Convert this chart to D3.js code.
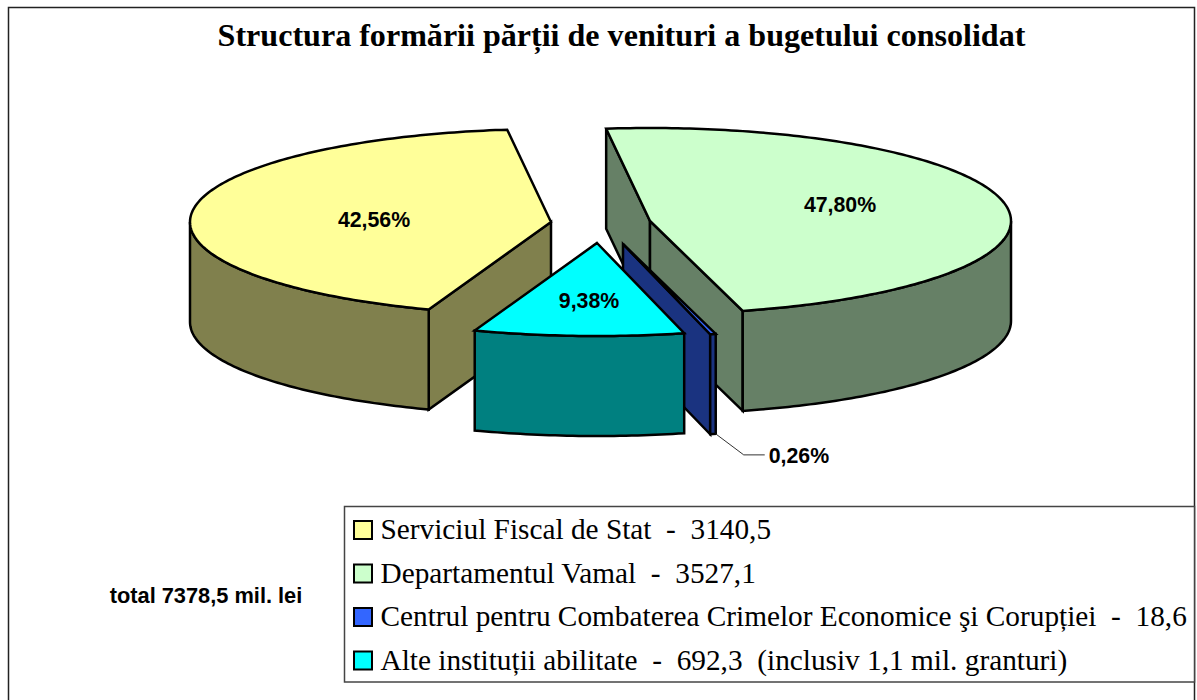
<!DOCTYPE html>
<html>
<head>
<meta charset="utf-8">
<script src="https://cdn.jsdelivr.net/npm/d3@7"></script>
<style>
html, body { margin: 0; padding: 0; background: #fff; }
svg { display: block; }
text { white-space: pre; }
.title { font: bold 32.07px "Liberation Serif", serif; }
.pct { font: bold 21.3px "Liberation Sans", sans-serif; }
.total { font: bold 21.8px "Liberation Sans", sans-serif; }
.legend { font: 29.3px "Liberation Serif", serif; }
</style>
</head>
<body>
<svg width="1197" height="700"></svg>
<script>
// data
var names = ["Serviciul Fiscal de Stat", "Departamentul Vamal", "Centrul pentru Combaterea Crimelor Economice şi Corupției", "Alte instituții abilitate"];
var values = [3140.5, 3527.1, 18.6, 692.3];
var percents = ["42,56%", "47,80%", "0,26%", "9,38%"];
var valueLabels = ["3140,5", "3527,1", "18,6", "692,3  (inclusiv 1,1 mil. granturi)"];
var topColors = ["#FFFF99", "#CCFFCC", "#3366FF", "#00FFFF"];
var wallColors = ["#80804D", "#668066", "#1A3380", "#008080"];

var title = "Structura formării părții de venituri a bugetului consolidat";
var totalLabel = "total 7378,5 mil. lei";

// layout of the tilted pie
var cx = 601, cy = 224, rx = 361, ry = 93, depth = 100;
var explode = [[-50, -2], [49, -3], [22, 20], [-4, 19]];
var labelShift = [[-177, 5], [190, -9], null, [-8, 65]];

var svg = d3.select("svg");

// outer frame, open at the bottom edge of the picture
svg.append("path")
    .attr("d", "M8.5,700V7.5H1194.5V700")
    .attr("fill", "none")
    .attr("stroke", "#222")
    .attr("stroke-width", 1.5);

svg.append("text")
    .attr("class", "title")
    .attr("x", 621.5)
    .attr("y", 46)
    .attr("text-anchor", "middle")
    .text(title);

var pie = d3.pie()
    .sort(null)
    .startAngle(199.8 * Math.PI / 180)
    .endAngle(559.8 * Math.PI / 180);

var slices = pie(values).map(function(d, i) {
    d.i = i;
    d.ox = cx + explode[i][0];
    d.oy = cy + explode[i][1];
    return d;
});

function pt(d, a, down) {
    return [d.ox + rx * Math.sin(a), d.oy - ry * Math.cos(a) + (down ? depth : 0)];
}

// points along the rim between two angles
function rim(d, a0, a1, down) {
    var n = Math.max(2, Math.ceil(Math.abs(a1 - a0) * 60));
    return d3.range(n + 1).map(function(k) {
        return pt(d, a0 + (a1 - a0) * k / n, down);
    });
}

var line = d3.line();

function topFace(d) {
    return line([[d.ox, d.oy]].concat(rim(d, d.startAngle, d.endAngle))) + "Z";
}

// rim wall, only the part on the front half of the ellipse
function rimWall(d) {
    var turn = Math.floor(d.startAngle / (2 * Math.PI)) * 2 * Math.PI;
    var a0 = Math.max(d.startAngle, turn + Math.PI / 2);
    var a1 = Math.min(d.endAngle, turn + 3 * Math.PI / 2);
    if (d.i == 1) { a0 = 2 * Math.PI + Math.PI / 2; a1 = d.endAngle; }
    if (a1 <= a0) return null;
    return line(rim(d, a0, a1).concat(rim(d, a1, a0, true))) + "Z";
}

// flat cut wall from the slice tip out to the rim at angle a
function cutWall(d, a) {
    var p = pt(d, a), q = pt(d, a, true);
    return line([[d.ox, d.oy], p, q, [d.ox, d.oy + depth]]) + "Z";
}

var pieG = svg.append("g")
    .attr("stroke", "#000")
    .attr("stroke-width", 2.5)
    .attr("stroke-linejoin", "miter");

function drawWall(d, path) {
    if (!path) return;
    pieG.append("path").attr("d", path).attr("fill", wallColors[d.i]);
}

function drawTop(d) {
    pieG.append("path").attr("d", topFace(d)).attr("fill", topColors[d.i]);
}

var yellow = slices[0], green = slices[1], blue = slices[2], cyan = slices[3];

// back to front
drawWall(green, cutWall(green, green.startAngle));
drawWall(green, cutWall(green, green.endAngle));
drawWall(green, rimWall(green));
drawTop(green);

drawWall(yellow, cutWall(yellow, yellow.startAngle));
drawWall(yellow, rimWall(yellow));
drawTop(yellow);

drawWall(blue, cutWall(blue, blue.endAngle));
drawWall(blue, rimWall(blue));
drawTop(blue);

drawWall(cyan, rimWall(cyan));
drawTop(cyan);

// percent labels
slices.forEach(function(d) {
    if (!labelShift[d.i]) return;
    svg.append("text")
        .attr("class", "pct")
        .attr("x", d.ox + labelShift[d.i][0])
        .attr("y", d.oy + labelShift[d.i][1])
        .attr("text-anchor", "middle")
        .text(percents[d.i]);
});

// leader line for the thin slice
var foot = pt(blue, blue.startAngle, true);
svg.append("path")
    .attr("d", line([foot, [foot[0] + 28, foot[1] + 21], [foot[0] + 49, foot[1] + 21]]))
    .attr("fill", "none")
    .attr("stroke", "#333")
    .attr("stroke-width", 1);

svg.append("text")
    .attr("class", "pct")
    .attr("x", foot[0] + 53)
    .attr("y", foot[1] + 29)
    .text(percents[2]);

svg.append("text")
    .attr("class", "total")
    .attr("x", 206)
    .attr("y", 603)
    .attr("text-anchor", "middle")
    .text(totalLabel);

// legend
svg.append("rect")
    .attr("x", 344.5)
    .attr("y", 506.5)
    .attr("width", 850)
    .attr("height", 175.5)
    .attr("fill", "#fff")
    .attr("stroke", "#444")
    .attr("stroke-width", 1.5);

var rowY = d3.scalePoint().domain(d3.range(names.length)).range([530, 660.5]);

var row = svg.selectAll("g.row")
    .data(names)
    .enter().append("g")
    .attr("class", "row")
    .attr("transform", function(d, i) { return "translate(0," + rowY(i) + ")"; });

row.append("rect")
    .attr("x", 354)
    .attr("y", -9)
    .attr("width", 18)
    .attr("height", 18)
    .attr("fill", function(d, i) { return topColors[i]; })
    .attr("stroke", "#000")
    .attr("stroke-width", 2);

row.append("text")
    .attr("class", "legend")
    .attr("x", 380.5)
    .attr("y", 9)
    .text(function(d, i) { return d + "  -  " + valueLabels[i]; });
</script>
</body>
</html>
